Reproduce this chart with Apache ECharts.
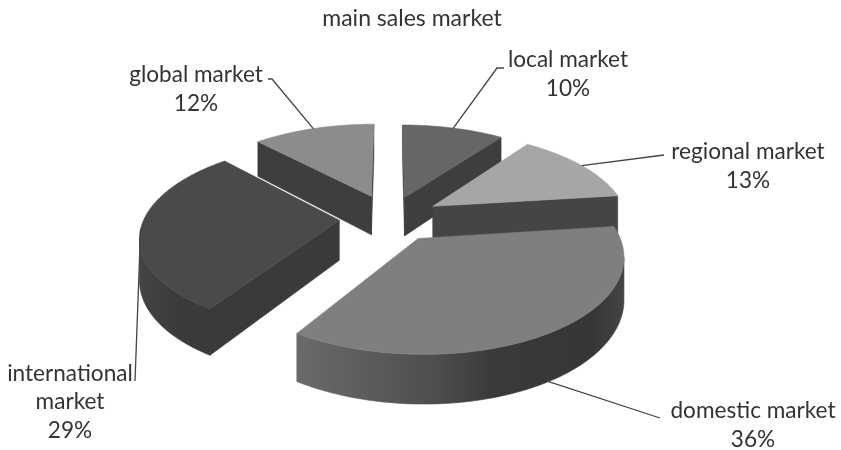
<!DOCTYPE html>
<html>
<head>
<meta charset="utf-8">
<style>html,body{margin:0;padding:0;background:#fff}#chart{width:841px;height:450px}</style>
<script src="https://cdn.jsdelivr.net/npm/echarts@6/dist/echarts.min.js"></script>
</head>
<body>
<div id="chart"></div>
<script>
// Market shares, clockwise from twelve o'clock
const categories = ['local market', 'regional market', 'domestic market', 'international market', 'global market'];
const shares = [10, 13, 36, 29, 12];

// Label text with its line breaks, centre of the text block, and the elbow of its leader
const labelNames = ['local market', 'regional market', 'domestic market', 'international\nmarket', 'global market'];
const labelCentres = [[568, 74], [748, 166], [753, 425], [70, 402], [196, 89]];
const leaderElbows = [[[497, 68], [504, 68]], [[664, 155]], [[660, 418]], [[135, 381]], [[272, 79], [268, 79]]];

// Slice colours
const topColours = ['#666666', '#a6a6a6', '#7f7f7f', '#4a4a4a', '#8c8c8c'];
const cutColours = ['#3e3e3e', '#454545', '#3c3c3c', '#3a3a3a', '#3e3e3e'];
const rimStops = [
  [[0, '#3e3e3e'], [1, '#3e3e3e']],
  [[0, '#454545'], [1, '#454545']],
  [[0, '#6a6a6a'], [0.42, '#4e4e4e'], [0.6, '#3a3a3a'], [0.9, '#363636'], [1, '#444444']],
  [[0, '#444444'], [0.5, '#3b3b3b'], [1, '#3a3a3a']],
  [[0, '#3e3e3e'], [1, '#3e3e3e']]
];

// Perspective camera over the pie plane, and how far each slice is pulled out
const centreX = 390, centreY = 218;
const scaleX = 195, scaleY = 90, perspective = 0.16, thickness = 40;
const explodes = [0.25, 0.26, 0.26, 0.26, 0.27];

const total = shares.reduce((a, b) => a + b, 0);
const starts = [];
shares.reduce((acc, v, i) => { starts[i] = acc; return acc + v; }, 0);
const toAngle = v => v / total * Math.PI * 2;

function project(X, Y, lower) {
  const s = 1 / (1 - perspective * Y);
  return [centreX + scaleX * X * s, centreY + scaleY * Y * s + (lower ? thickness * s : 0)];
}

function sliceGeometry(i) {
  const a0 = toAngle(starts[i]), a1 = toAngle(starts[i] + shares[i]), mid = (a0 + a1) / 2;
  const ox = explodes[i] * Math.sin(mid), oy = -explodes[i] * Math.cos(mid);
  const at = (t, lower) => project(ox + Math.sin(t), oy - Math.cos(t), lower);
  const steps = Math.ceil((a1 - a0) / 0.02);
  const angles = [];
  for (let k = 0; k <= steps; k++) angles.push(a0 + (a1 - a0) * k / steps);
  return { a0, a1, mid, ox, oy, at, angles, apex: project(ox, oy, false), apexLow: project(ox, oy, true) };
}

function renderSlice(params, api) {
  const i = params.dataIndex;
  const g = sliceGeometry(i);
  const rank = paintRank[i] * 10;
  const children = [];
  const poly = (points, fill, z2) => children.push({
    type: 'polygon', z2, shape: { points },
    style: { fill, stroke: fill, lineWidth: 0.6 }
  });

  // Straight cut faces, shown only where they turn towards the viewer
  const first = g.at(g.a0, false), last = g.at(g.a1, false);
  if (first[0] < g.apex[0]) poly([g.apex, first, g.at(g.a0, true), g.apexLow], cutColours[i], rank + 1);
  if (g.apex[0] < last[0]) poly([last, g.apex, g.apexLow, g.at(g.a1, true)], cutColours[i], rank + 1);

  // Outer wall: the run of the rim that travels right to left on screen
  const upper = [], lower = [];
  g.angles.forEach((t, k) => {
    const p = g.at(t, false);
    const next = k < g.angles.length - 1 ? g.at(g.angles[k + 1], false) : null;
    const prev = k > 0 ? g.at(g.angles[k - 1], false) : null;
    if ((next && next[0] < p[0]) || (prev && p[0] < prev[0])) {
      upper.push(p);
      lower.unshift(g.at(t, true));
    }
  });
  if (upper.length > 1) {
    poly(upper.concat(lower), new echarts.graphic.LinearGradient(0, 0, 1, 0,
      rimStops[i].map(s => ({ offset: s[0], color: s[1] }))), rank + 2);
  }

  // Top face
  poly([g.apex].concat(g.angles.map(t => g.at(t, false))), topColours[i], rank + 3);

  // Leader line from the rim at the slice's mid angle, then its label
  const isBottomLeader = i === 2;
  const anchor = g.at(g.mid, isBottomLeader);
  children.push({
    type: 'polyline', z2: 200,
    shape: { points: [anchor].concat(leaderElbows[i]) },
    style: { fill: 'none', stroke: '#444444', lineWidth: 1.3 }
  });
  children.push({
    type: 'text', z2: 201,
    style: {
      text: labelNames[i] + '\n' + api.value(0) + '%',
      x: labelCentres[i][0], y: labelCentres[i][1],
      align: 'center', verticalAlign: 'middle',
      font: '22.6px Lato', lineHeight: 28.5, fill: '#333333'
    }
  });
  return { type: 'group', children };
}

// Back-to-front order from the depth of each slice's mid angle
const paintRank = (() => {
  const depth = i => -Math.cos(sliceGeometry(i).mid);
  const order = shares.map((_, i) => i).sort((a, b) => depth(a) - depth(b));
  const rank = [];
  order.forEach((idx, r) => { rank[idx] = r; });
  return rank;
})();

const chart = echarts.init(document.getElementById('chart'), null, { renderer: 'canvas' });
chart.setOption({
  animation: false,
  backgroundColor: '#ffffff',
  title: {
    text: 'main sales market', left: 407, top: 2, textAlign: 'center',
    textStyle: { fontFamily: 'Lato', fontSize: 23, fontWeight: 'normal', color: '#333333' }
  },
  series: [{
    type: 'custom',
    coordinateSystem: 'none',
    clip: false,
    renderItem: renderSlice,
    encode: { value: 0, itemName: 1 },
    data: shares.map((v, i) => [v, categories[i]])
  }]
});
</script>
</body>
</html>
